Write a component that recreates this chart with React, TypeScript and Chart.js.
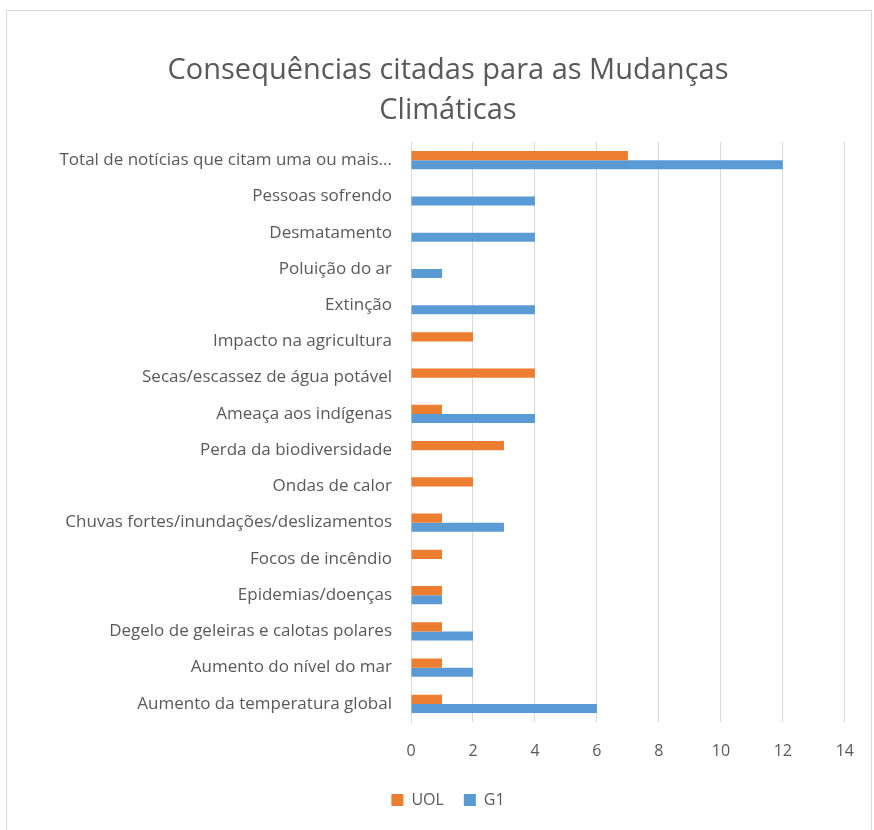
import React, { useEffect, useRef } from "react";
import { Chart, registerables } from "chart.js";

Chart.register(...registerables);

const categories = [
  "Total de notícias que citam uma ou mais...",
  "Pessoas sofrendo",
  "Desmatamento",
  "Poluição do ar",
  "Extinção",
  "Impacto na agricultura",
  "Secas/escassez de água potável",
  "Ameaça aos indígenas",
  "Perda da biodiversidade",
  "Ondas de calor",
  "Chuvas fortes/inundações/deslizamentos",
  "Focos de incêndio",
  "Epidemias/doenças",
  "Degelo de geleiras e calotas polares",
  "Aumento do nível do mar",
  "Aumento da temperatura global",
];

const uolValues = [7, 0, 0, 0, 0, 2, 4, 1, 3, 2, 1, 1, 1, 1, 1, 1];
const g1Values = [12, 4, 4, 1, 4, 0, 0, 4, 0, 0, 3, 0, 1, 2, 2, 6];

const titleLines = ["Consequências citadas para as Mudanças", "Climáticas"];
const seriesNames = ["UOL", "G1"];

const FONT = "'Open Sans', sans-serif";
const TEXT = "#595959";

export default function App() {
  const ref = useRef<HTMLCanvasElement | null>(null);

  useEffect(() => {
    if (!ref.current) return;
    const chart = new Chart(ref.current, {
      type: "bar",
      data: {
        labels: categories,
        datasets: [
          {
            label: seriesNames[0],
            data: uolValues,
            backgroundColor: "#ED7D31",
            barPercentage: 1,
            categoryPercentage: 0.5,
          },
          {
            label: seriesNames[1],
            data: g1Values,
            backgroundColor: "#5B9BD5",
            barPercentage: 1,
            categoryPercentage: 0.5,
          },
        ],
      },
      options: {
        indexAxis: "y",
        animation: false,
        responsive: false,
        layout: { padding: { left: 51, right: 29, top: 0, bottom: 12 } },
        plugins: {
          tooltip: { enabled: false },
          title: {
            display: true,
            text: titleLines,
            color: TEXT,
            font: { family: FONT, size: 29, weight: "normal", lineHeight: 1.38 },
            padding: { top: 51, bottom: 11 },
          },
          legend: {
            position: "bottom",
            labels: {
              color: TEXT,
              font: { family: FONT, size: 16 },
              boxWidth: 12,
              boxHeight: 12,
              padding: 20,
            },
          },
        },
        scales: {
          x: {
            min: 0,
            max: 14,
            ticks: {
              stepSize: 2,
              color: TEXT,
              font: { family: FONT, size: 16 },
              padding: 20,
            },
            grid: { color: "#d9d9d9", drawTicks: false },
            border: { display: false },
            afterFit: (scale: any) => {
              scale.height = 50;
            },
          },
          y: {
            ticks: {
              color: TEXT,
              font: { family: FONT, size: 17 },
              padding: 19,
              autoSkip: false,
            },
            grid: { display: false, drawTicks: false },
            border: { display: true, color: "#d9d9d9" },
            afterFit: (scale: any) => {
              scale.width = 360;
            },
          },
        },
      },
    });
    return () => chart.destroy();
  }, []);

  return (
    <div style={{ position: "absolute", left: 0, top: 0, width: 874, height: 830, background: "#fff", overflow: "hidden" }}>
      <div
        style={{
          position: "absolute",
          left: 6,
          top: 10,
          width: 866,
          height: 840,
          border: "1px solid #d9d9d9",
          boxSizing: "border-box",
        }}
      />
      <canvas ref={ref} width={874} height={830} style={{ position: "absolute", left: 0, top: 0 }} />
    </div>
  );
}
